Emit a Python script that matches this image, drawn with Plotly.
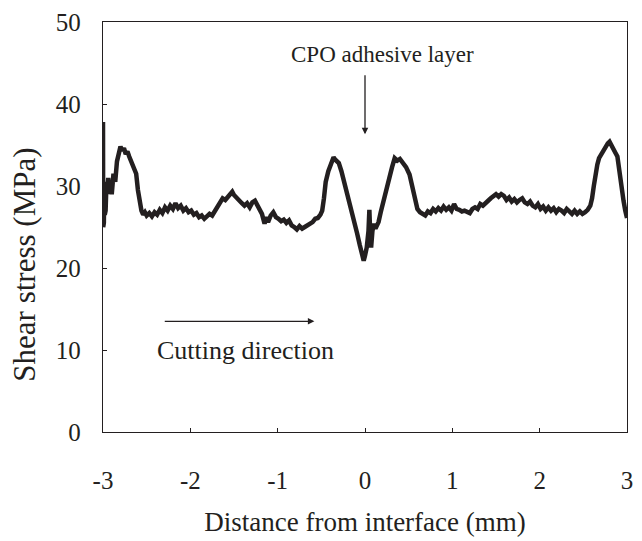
import plotly.graph_objects as go

# Shear stress profile across the CPO adhesive interface
distance_mm = [
    -3.000, -2.998, -2.995, -2.990, -2.985, -2.980, -2.975, -2.970, -2.960, -2.950,
    -2.940, -2.930, -2.920, -2.900, -2.880, -2.860, -2.840, -2.820, -2.800, -2.780,
    -2.760, -2.740, -2.720, -2.700, -2.680, -2.650, -2.620, -2.600, -2.580, -2.560,
    -2.540, -2.520, -2.500, -2.470, -2.440, -2.410, -2.380, -2.350, -2.320, -2.290,
    -2.260, -2.230, -2.200, -2.170, -2.140, -2.110, -2.080, -2.050, -2.020, -1.990,
    -1.960, -1.930, -1.900, -1.870, -1.840, -1.810, -1.780, -1.750, -1.720, -1.690,
    -1.660, -1.630, -1.600, -1.570, -1.540, -1.520, -1.500, -1.470, -1.440, -1.410,
    -1.380, -1.350, -1.320, -1.290, -1.260, -1.230, -1.200, -1.180, -1.150, -1.130,
    -1.110, -1.080, -1.050, -1.020, -0.990, -0.960, -0.930, -0.900, -0.870, -0.840,
    -0.810, -0.780, -0.750, -0.720, -0.690, -0.660, -0.630, -0.600, -0.570, -0.540,
    -0.510, -0.490, -0.470, -0.450, -0.420, -0.390, -0.360, -0.340, -0.320, -0.300,
    -0.270, -0.240, -0.210, -0.180, -0.150, -0.120, -0.090, -0.060, -0.030, -0.015,
    0.000, 0.020, 0.040, 0.050, 0.060, 0.070, 0.085, 0.100, 0.120, 0.155,
    0.180, 0.210, 0.250, 0.280, 0.310, 0.340, 0.370, 0.400, 0.440, 0.470,
    0.510, 0.540, 0.570, 0.600, 0.630, 0.660, 0.690, 0.720, 0.750, 0.780,
    0.810, 0.840, 0.870, 0.900, 0.930, 0.960, 0.990, 1.020, 1.050, 1.080,
    1.110, 1.140, 1.170, 1.200, 1.230, 1.260, 1.290, 1.320, 1.350, 1.380,
    1.410, 1.440, 1.470, 1.500, 1.530, 1.560, 1.590, 1.620, 1.650, 1.680,
    1.710, 1.740, 1.770, 1.800, 1.830, 1.860, 1.890, 1.920, 1.950, 1.980,
    2.010, 2.040, 2.070, 2.100, 2.130, 2.160, 2.190, 2.220, 2.250, 2.280,
    2.310, 2.340, 2.370, 2.400, 2.430, 2.460, 2.490, 2.520, 2.550, 2.580,
    2.600, 2.620, 2.640, 2.660, 2.680, 2.700, 2.730, 2.760, 2.780, 2.800,
    2.820, 2.850, 2.870, 2.890, 2.910, 2.930, 2.960, 2.980, 3.000,
]
shear_stress_mpa = [
    37.8, 25.0, 31.0, 25.5, 30.5, 26.5, 30.0, 27.0, 30.5, 29.0,
    31.0, 29.5, 30.2, 29.0, 31.5, 30.5, 33.0, 33.8, 34.8, 34.3,
    34.6, 33.9, 34.2, 33.6, 33.0, 32.3, 31.5, 29.5, 28.0, 27.0,
    26.5, 26.8, 26.4, 26.7, 26.3, 26.8, 26.5, 27.1, 26.7, 27.4,
    27.0, 27.6, 27.2, 27.9, 27.3, 27.6, 27.0, 27.3, 26.8, 27.0,
    26.5, 26.7, 26.2, 26.4, 26.0, 26.3, 26.6, 26.4, 26.9, 27.3,
    27.8, 28.5, 28.3, 28.7, 29.1, 29.3, 28.9, 28.5, 28.2, 27.9,
    27.6, 27.9, 27.4, 28.0, 28.2, 27.5, 27.0, 26.6, 25.4, 26.2,
    25.6, 26.4, 26.8, 26.2, 26.0, 25.7, 25.9, 25.5, 25.8, 25.2,
    25.0, 24.7, 25.1, 24.8, 25.0, 25.2, 25.5, 25.6, 26.0, 26.1,
    26.5, 27.0, 28.5, 30.5, 31.8, 32.8, 33.5, 33.2, 33.0, 32.8,
    31.8, 30.6, 29.0, 28.0, 26.8, 25.6, 24.2, 22.8, 21.5, 20.9,
    21.5, 22.5, 24.5, 27.1, 24.0, 22.5, 24.5, 25.4, 24.8, 25.6,
    26.8, 28.2, 29.8, 31.0, 32.3, 33.4, 33.1, 33.3, 32.8, 32.3,
    31.4, 30.0, 28.2, 27.2, 26.8, 26.6, 26.4, 26.9, 26.7, 27.2,
    26.9, 27.3, 27.0, 27.5, 27.1, 27.4, 27.0, 27.8, 27.2, 27.1,
    26.9, 27.0, 26.8, 26.7, 27.2, 27.4, 27.2, 27.8, 27.6, 28.0,
    28.2, 28.5, 28.7, 29.0, 28.7, 29.0, 28.8, 28.3, 28.6, 28.1,
    28.4, 28.0, 28.3, 28.5, 28.0, 27.8, 28.1, 27.6, 27.4, 27.8,
    27.2, 27.5, 27.0, 27.4, 27.0, 27.3, 26.8, 27.2, 27.0, 26.7,
    27.2, 26.9, 26.6, 27.0, 26.6, 26.9, 26.6, 26.8, 27.1, 27.6,
    28.5, 30.0, 31.5, 32.6, 33.4, 33.8, 34.3, 34.8, 35.2, 35.4,
    34.9, 34.5, 34.0, 33.6, 32.0, 29.8, 28.2, 27.0, 26.1,
]

x_ticks = [-3, -2, -1, 0, 1, 2, 3]
y_ticks = [0, 10, 20, 30, 40, 50]

FONT = "Liberation Serif"
INK = "#231f20"

fig = go.Figure()
fig.add_trace(go.Scatter(
    x=distance_mm, y=shear_stress_mpa, mode="lines",
    line=dict(color=INK, width=4.5), showlegend=False,
))

# Annotation arrows and labels
fig.add_annotation(
    x=0, y=36.3, ax=0, ay=43.7, axref="x", ayref="y", xref="x", yref="y",
    showarrow=True, arrowhead=2, arrowsize=1, arrowwidth=1.3, arrowcolor=INK, text="",
)
fig.add_annotation(
    x=0.2, y=46.0, xref="x", yref="y", text="CPO adhesive layer",
    showarrow=False, font=dict(family=FONT, size=23, color=INK),
)
fig.add_annotation(
    x=-0.58, y=13.5, ax=-2.31, ay=13.5, axref="x", ayref="y", xref="x", yref="y",
    showarrow=True, arrowhead=2, arrowsize=1, arrowwidth=1.3, arrowcolor=INK, text="",
)
fig.add_annotation(
    x=-1.37, y=9.9, xref="x", yref="y", text="Cutting direction",
    showarrow=False, font=dict(family=FONT, size=26, color=INK),
)

# Y-axis title, set slightly below the plot's vertical centre
fig.add_annotation(
    x=-0.149, y=0.408, xref="paper", yref="paper", text="Shear stress (MPa)",
    textangle=-90, showarrow=False, xanchor="center", yanchor="middle",
    font=dict(family=FONT, size=31, color=INK),
)

axis_common = dict(
    showline=True, linecolor=INK, linewidth=1.3, mirror=True,
    ticks="inside", ticklen=4, tickcolor=INK, showgrid=False, zeroline=False,
    tickfont=dict(family=FONT, size=25, color=INK),
)

fig.update_xaxes(
    range=[-3, 3], tickvals=x_ticks, ticktext=[str(v) for v in x_ticks],
    ticklabelstandoff=26,
    title=dict(text="Distance from interface (mm)", standoff=18,
               font=dict(family=FONT, size=27, color=INK)),
    **axis_common,
)
fig.update_yaxes(
    range=[0, 50], tickvals=y_ticks, ticktext=[str(v) for v in y_ticks],
    ticklabelstandoff=16,
    **axis_common,
)

fig.update_layout(
    width=642, height=541,
    margin=dict(l=103, r=9, t=20, b=109),
    paper_bgcolor="white", plot_bgcolor="white",
    font=dict(family=FONT, color=INK),
)

fig.write_html("out.html")
